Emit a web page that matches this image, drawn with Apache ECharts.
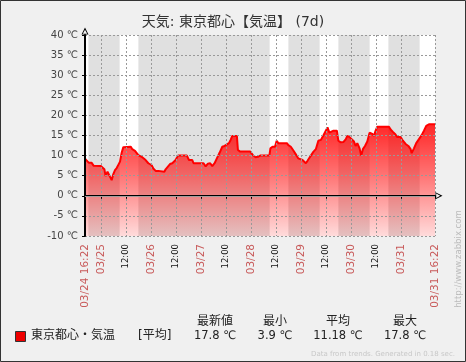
<!DOCTYPE html>
<html><head><meta charset="utf-8">
<script src="https://cdn.jsdelivr.net/npm/echarts@6/dist/echarts.min.js"></script>
<style>html,body{margin:0;padding:0;background:#f0f0f0;}#c{width:466px;height:362px;}</style>
</head><body><div id="c"></div>
<script>
// hours since 03/24 16:22
const hours = [0, 0.8, 1.9, 3.2, 4.1, 7.6, 8.3, 9.3, 9.9, 10.8,
  11.7, 12.8, 13.6, 14.4, 15.2, 16.0, 16.8, 17.6, 18.4, 19.2,
  22.0, 22.7, 24.0, 24.8, 25.6, 27.2, 28.0, 29.1, 30.4, 32.0,
  32.8, 33.9, 35.2, 36.0, 38.1, 38.7, 39.6, 40.8, 41.9, 42.5,
  43.5, 44.6, 48.9, 49.9, 51.5, 52.1, 56.9, 57.9, 59.0, 60.1,
  61.1, 62.2, 63.3, 64.6, 65.9, 67.0, 67.8, 69.1, 69.9, 70.7,
  72.9, 73.4, 74.5, 77.4, 78.2, 79.3, 80.6, 81.9, 83.0, 84.1,
  88.5, 89.0, 90.0, 91.2, 92.0, 92.8, 96.9, 97.6, 98.8, 100.1,
  101.2, 102.4, 103.3, 104.4, 105.3, 106.0, 106.8, 107.7, 108.8, 109.7,
  110.8, 112.0, 113.2, 114.0, 114.9, 115.6, 116.4, 117.3, 118.0, 119.3,
  120.9, 121.6, 122.8, 124.1, 125.2, 125.9, 127.0, 128.0, 129.1, 129.9,
  130.7, 131.8, 132.6, 133.4, 134.4, 135.5, 136.6, 137.9, 138.7, 139.5,
  140.3, 145.9, 146.7, 147.8, 148.8, 149.9, 150.7, 151.5, 152.6, 153.9,
  155.2, 156.3, 156.8, 157.9, 159.0, 160.3, 161.6, 162.7, 163.8, 165.1,
  168];
const temps = [9.2, 8.9, 8.2, 8.2, 7.5, 7.4, 7.1, 6.6, 4.9, 6.0,
  5.7, 3.9, 5.4, 6.4, 6.9, 7.7, 8.5, 10.7, 12.1, 12.2,
  12.2, 11.6, 11.2, 11.2, 10.1, 9.7, 9.7, 8.9, 8.1, 7.6,
  6.8, 6.2, 6.2, 6.0, 6.0, 6.6, 6.2, 7.9, 8.1, 8.1,
  8.9, 10.0, 10.0, 8.9, 8.9, 8.1, 8.1, 7.3, 8.0, 8.1,
  7.4, 8.1, 9.3, 10.7, 12.2, 12.4, 12.8, 13.1, 13.9, 14.9,
  14.9, 11.4, 11.0, 11.0, 11.2, 11.0, 10.1, 9.6, 9.7, 10.0,
  10.0, 11.8, 12.2, 12.2, 13.7, 13.1, 13.1, 12.6, 12.2, 11.2,
  10.3, 9.3, 9.1, 8.9, 8.5, 8.1, 8.7, 8.5, 10.3, 11.0,
  11.6, 13.7, 13.9, 14.6, 15.5, 15.4, 17.0, 15.7, 15.9, 16.2,
  16.2, 13.7, 13.3, 13.4, 14.1, 14.9, 14.6, 14.1, 13.5, 12.4,
  13.1, 11.8, 10.0, 11.6, 12.4, 13.5, 15.7, 15.4, 14.9, 16.2,
  17.2, 17.2, 16.5, 15.9, 15.4, 14.6, 14.9, 14.6, 13.7, 12.9,
  12.4, 11.6, 10.6, 11.8, 13.1, 14.1, 15.1, 16.2, 17.4, 17.8,
  17.8];
const tickHours = [0, 7.633, 19.633, 31.633, 43.633, 55.633, 67.633, 79.633, 91.633, 103.633, 115.633, 127.633, 139.633, 151.633, 168];
const tickLabels = ['03/24 16:22', '03/25', '12:00', '03/26', '12:00', '03/27', '12:00', '03/28', '12:00', '03/29', '12:00', '03/30', '12:00', '03/31', '03/31 16:22'];
const workBands = [[0, 1.633], [16.633, 25.633], [88.633, 97.633], [112.633, 121.633], [136.633, 145.633], [160.633, 168]];
const yMin = -10, yMax = 40, yStep = 5;
const titleText = '天気: 東京都心【気温】 (7d)';
const seriesName = '東京都心・気温';
const funcLabel = '[平均]';
const legendHeaders = ['最新値', '最小', '平均', '最大'];
const legendValues = ['17.8 ℃', '3.9 ℃', '11.18 ℃', '17.8 ℃'];
const footerText = 'Data from trends. Generated in 0.18 sec.';
const watermark = 'http://www.zabbix.com';

const FONT = '"DejaVu Sans", "Noto Sans CJK JP", sans-serif';
const chart = echarts.init(document.getElementById('c'), null, {renderer: 'canvas'});
const arrow = 'path://M5,0 L10,10 L0,10 Z M5,3.2 L1.8,9 L8.2,9 Z';
const colX = [215, 275, 338, 405];

const graphics = [
  {type: 'rect', shape: {x: 0.5, y: 0.5, width: 465, height: 361}, style: {fill: 'none', stroke: '#333', lineWidth: 1}, z: 100},
  {type: 'rect', shape: {x: 15.5, y: 331.5, width: 10, height: 10}, style: {fill: '#ee0000', stroke: '#333', lineWidth: 1}},
  {type: 'text', x: 31, y: 336, style: {text: seriesName, font: '12px ' + FONT, fill: '#222', textVerticalAlign: 'middle'}},
  {type: 'text', x: 138, y: 336, style: {text: funcLabel, font: '12px ' + FONT, fill: '#222', textVerticalAlign: 'middle'}},
  {type: 'text', x: 455, y: 354, style: {text: footerText, font: '7px ' + FONT, fill: '#c8c8c8', textAlign: 'right', textVerticalAlign: 'middle'}},
  {type: 'text', x: 459, y: 259, rotation: Math.PI / 2, style: {text: watermark, font: '8.5px ' + FONT, fill: '#bbb', textAlign: 'center', textVerticalAlign: 'middle'}}
];
legendHeaders.forEach((h, i) => {
  graphics.push({type: 'text', x: colX[i], y: 322, style: {text: h, font: '12px ' + FONT, fill: '#222', textAlign: 'center', textVerticalAlign: 'middle'}});
  graphics.push({type: 'text', x: colX[i], y: 336, style: {text: legendValues[i], font: '11.5px ' + FONT, fill: '#222', textAlign: 'center', textVerticalAlign: 'middle'}});
});

const option = {
  backgroundColor: '#f0f0f0',
  animation: false,
  textStyle: {fontFamily: FONT},
  title: {text: titleText, left: 'center', top: 10, textStyle: {fontSize: 14, fontWeight: 'normal', color: '#333', fontFamily: FONT}},
  grid: {left: 85, top: 35, right: 31, bottom: 126, show: true, backgroundColor: '#e0e0e0', borderWidth: 0, containLabel: false},
  xAxis: {
    type: 'value', min: 0, max: 168, z: 3,
    axisLine: {lineStyle: {color: '#000', width: 2}, symbol: ['none', arrow], symbolSize: [7, 8], symbolOffset: [0, 4]},
    axisTick: {show: true, length: 3, customValues: tickHours, lineStyle: {color: '#000'}},
    axisLabel: {
      customValues: tickHours, rotate: 90, margin: 8,
      formatter: function (v) {
        let idx = 0, best = 1e9;
        tickHours.forEach((t, i) => { if (Math.abs(t - v) < best) { best = Math.abs(t - v); idx = i; } });
        const s = tickLabels[idx];
        return s === '12:00' ? '{t|' + s + '}' : '{d|' + s + '}';
      },
      rich: {
        d: {color: '#c85a5a', fontSize: 10.5, fontFamily: FONT},
        t: {color: '#111', fontSize: 8.5, fontFamily: FONT}
      }
    },
    splitLine: {show: true, lineStyle: {color: '#999', type: [2, 2], width: 1}}
  },
  yAxis: {
    type: 'value', min: yMin, max: yMax, interval: yStep, z: 3,
    axisLine: {show: true, lineStyle: {color: '#000', width: 2}, symbol: ['none', arrow], symbolSize: [7, 8], symbolOffset: [0, 4]},
    axisTick: {show: true, interval: 1, length: 3, lineStyle: {color: '#000'}},
    axisLabel: {interval: 1, color: '#444', fontSize: 10, margin: 7, formatter: v => v + ' ℃'},
    splitLine: {show: true, lineStyle: {color: '#999', type: [2, 2], width: 1}}
  },
  series: [
    {
      type: 'line', z: 1, data: [[0, yMin]], symbol: 'none', lineStyle: {opacity: 0}, silent: true,
      markArea: {silent: true, itemStyle: {color: '#ffffff'}, data: workBands.map(b => [{xAxis: b[0]}, {xAxis: b[1]}])},
      markLine: {silent: true, symbol: 'none', label: {show: false}, lineStyle: {color: '#a0a0a0', type: 'solid', width: 1}, data: [{yAxis: 0}]}
    },
    {
      name: seriesName, type: 'line', z: 2,
      data: hours.map((h, i) => [h, temps[i]]),
      symbol: 'none', smooth: false,
      lineStyle: {color: '#ff0000', width: 2},
      areaStyle: {
        origin: 'start',
        opacity: 1,
        color: new echarts.graphic.LinearGradient(0, 0, 0, 1, [
          {offset: 0, color: 'rgba(255,0,0,0.85)'},
          {offset: 0.45, color: 'rgba(255,0,0,0.55)'},
          {offset: 1, color: 'rgba(255,0,0,0.14)'}
        ])
      }
    }
  ],
  graphic: graphics
};
chart.setOption(option);
</script>
</body></html>
